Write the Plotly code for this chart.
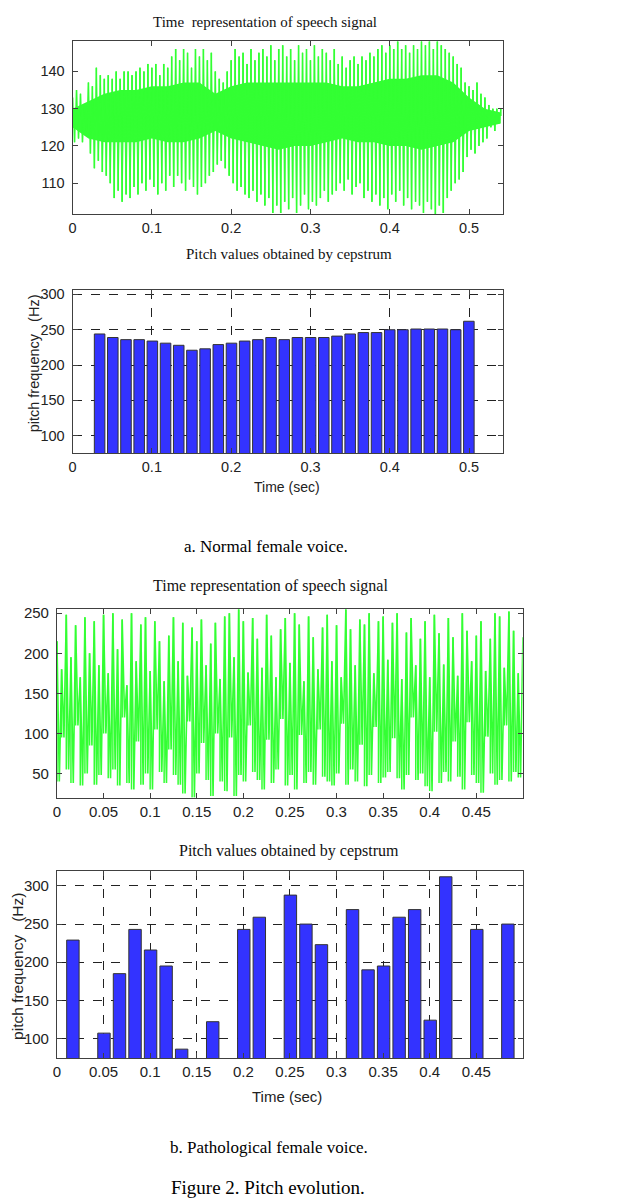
import numpy as np
import plotly.graph_objects as go

W, H = 637, 1202

# ---------------- data ----------------
# (a) normal female voice: speech signal, upper spike tips / lower spike tips
sig_a_step = 0.0025
sig_a_peaks = [133, 135, 134, 131,
               137, 136, 141, 139, 138,
               139, 138, 140, 138, 140, 140, 139, 140,
               141, 140, 142, 141, 142, 139, 142, 141,
               144, 146, 143, 146, 145, 141, 146, 144, 146, 143, 145, 140,
               138, 137, 140,
               143, 146, 144, 145, 142, 146, 143, 145, 146, 144, 147,
               143, 146, 147, 144, 146, 143, 147, 145, 146, 143, 147, 144, 146, 145, 143, 146,
               142, 144, 141, 143, 144, 142, 144, 143, 145, 144,
               146, 147, 145, 147, 146, 148, 146, 147, 145, 147,
               146, 148, 147, 148, 146, 148, 147, 146, 145, 144,
               142, 141,
               137, 136, 135, 137, 134, 133,
               131, 130, 130, 130]
sig_a_troughs = [121, 122, 121, 124,
                 118, 114, 116, 113, 112,
                 110, 106, 108, 105, 107, 106, 109, 107,
                 110, 108, 111, 109, 107, 110, 108, 112,
                 109, 112, 110, 108, 111, 109, 107, 109, 110, 112, 113, 115,
                 116, 114, 112,
                 110, 108, 109, 107, 106, 108, 105, 107, 104, 106, 102,
                 104, 102, 105, 103, 106, 102, 104, 107, 103, 105, 104, 106, 108, 105, 107, 108,
                 110, 108, 111, 107, 109, 110, 106, 108, 105, 107,
                 104, 106, 103, 107, 105, 108, 104, 106, 103, 105,
                 104, 102, 105, 103, 101, 104, 102, 106, 108, 110,
                 111, 113,
                 117, 119, 118, 120, 121, 122,
                 125, 124, 126]
sig_a_mid = 128
# dense core band of signal (a)
core_a_t = [0.00, 0.02, 0.04, 0.06, 0.08, 0.10, 0.12, 0.14, 0.16, 0.18, 0.20, 0.22, 0.24, 0.26,
            0.28, 0.30, 0.32, 0.34, 0.36, 0.38, 0.40, 0.42, 0.44, 0.46, 0.48, 0.50, 0.52, 0.54]
core_a_hi = [130, 132, 134, 135, 135, 136, 136, 137, 137, 134, 136, 137, 137, 137,
             137, 137, 137, 136, 136, 137, 138, 138, 139, 139, 137, 133, 130, 129]
core_a_lo = [125, 122, 121, 121, 121, 122, 121, 121, 122, 124, 122, 121, 120, 119,
             120, 120, 121, 122, 121, 121, 120, 120, 119, 120, 121, 124, 125, 126]

# (a) pitch values per frame (Hz)
pitch_a_t0 = 0.0341
pitch_a_step = 0.01663
pitch_a = [244, 239, 236, 236, 234, 231, 228, 221, 223, 229, 231, 234, 236, 239, 236,
           239, 239, 239, 241, 244, 246, 246, 250, 250, 251, 251, 251, 250, 262]

# (b) pathological female voice: speech signal extremes (alternating)
sig_b_step = 0.0025
sig_b_peaks = [215, 180, 248, 195, 235, 170, 245, 200, 240, 185,
               248, 175, 250, 205, 242, 160, 250, 190, 236, 245,
               178, 240, 215, 165, 222, 245, 190, 238, 172, 232,
               215, 242, 185, 212, 238, 168, 246, 250, 195, 255,
               240, 176, 244, 218, 182, 248, 222, 170, 230, 244,
               188, 250, 236, 165, 246, 220, 180, 232, 248, 190,
               235, 170, 255, 230, 185, 242, 236, 250, 175, 240,
               246, 192, 238, 250, 168, 226, 244, 185, 218, 240,
               170, 248, 225, 186, 244, 220, 172, 250, 228, 190,
               222, 240, 178, 218, 250, 246, 182, 252, 228, 175,
               220]
sig_b_troughs = [40, 95, 55, 38, 110, 35, 50, 85, 36, 48,
                 100, 44, 55, 35, 120, 38, 30, 90, 36, 50,
                 30, 105, 52, 38, 80, 48, 36, 25, 115, 20,
                 50, 88, 42, 22, 100, 40, 28, 95, 22, 48,
                 40, 110, 52, 42, 30, 92, 38, 55, 118, 35,
                 48, 30, 98, 38, 52, 36, 105, 46, 40, 35,
                 50, 112, 36, 55, 40, 86, 34, 48, 108, 38,
                 45, 52, 94, 44, 30, 48, 120, 42, 50, 34,
                 28, 102, 38, 52, 40, 90, 46, 30, 114, 48,
                 38, 26, 96, 50, 36, 42, 110, 40, 52, 45]

# (b) pitch values per frame (Hz), 0 = unvoiced frame
pitch_b_t0 = 0.0171
pitch_b_step = 0.01667
pitch_b = [229, 0, 107, 185, 243, 216, 195, 86, 0, 122, 0, 243, 259, 0, 288,
           250, 223, 0, 269, 190, 195, 259, 269, 124, 312, 0, 243, 0, 250]

# ---------------- helpers ----------------
def zigzag(peaks, troughs, step):
    n = len(peaks) + len(troughs)
    y = np.empty(n)
    y[0::2] = peaks
    y[1::2] = troughs
    return np.arange(n) * step, y

def spikes(tips, t0, step, base):
    xs, ys = [], []
    for i, v in enumerate(tips):
        t = t0 + i * step
        b = base[i] if isinstance(base, (list, tuple)) else base
        xs += [t, t, None]
        ys += [b, v, None]
    return xs, ys

def dx(l, r):
    return [l / W, r / W]

def dy(t, b):
    return [1 - b / H, 1 - t / H]

SERIF = "Liberation Serif, Times New Roman, serif"
SANS = "Liberation Sans, Arial, sans-serif"
GREEN = "#33ff33"
BLUE = "#3333ff"
FRAME = "#404040"

fig = go.Figure()

# panel 1: signal (a)
fig.add_trace(go.Scatter(
    x=list(core_a_t) + list(core_a_t[::-1]),
    y=list(core_a_hi) + list(core_a_lo[::-1]),
    fill="toself", fillcolor=GREEN, line=dict(width=0), mode="lines",
    xaxis="x", yaxis="y", hoverinfo="skip", showlegend=False))
ux, uy = spikes(sig_a_peaks, 0.0, 2 * sig_a_step, sig_a_mid)
lx, ly = spikes(sig_a_troughs, sig_a_step, 2 * sig_a_step, sig_a_mid)
fig.add_trace(go.Scatter(x=ux + lx, y=uy + ly, mode="lines", line=dict(color=GREEN, width=1.6),
                         connectgaps=False, xaxis="x", yaxis="y", hoverinfo="skip", showlegend=False))
xa, ya = zigzag(sig_a_peaks, sig_a_troughs, sig_a_step)
fig.add_trace(go.Scatter(x=xa, y=ya, mode="lines", line=dict(color=GREEN, width=0.9),
                         xaxis="x", yaxis="y", hoverinfo="skip", showlegend=False))

# panel 2: pitch (a)
ta = pitch_a_t0 + np.arange(len(pitch_a)) * pitch_a_step
fig.add_trace(go.Bar(x=ta, y=pitch_a, width=0.8 * pitch_a_step,
                     marker=dict(color=BLUE, line=dict(color="#333333", width=1)),
                     xaxis="x2", yaxis="y2", hoverinfo="skip", showlegend=False))

# panel 3: signal (b)
bx, by = spikes(sig_b_peaks[:len(sig_b_troughs)], 0.0, 2 * sig_b_step, list(sig_b_troughs))
fig.add_trace(go.Scatter(x=bx, y=by, mode="lines", line=dict(color=GREEN, width=1.5),
                         connectgaps=False, xaxis="x3", yaxis="y3", hoverinfo="skip", showlegend=False))
xb, yb = zigzag(sig_b_peaks, sig_b_troughs, sig_b_step)
fig.add_trace(go.Scatter(x=xb, y=yb, mode="lines", line=dict(color=GREEN, width=1.6),
                         xaxis="x3", yaxis="y3", hoverinfo="skip", showlegend=False))

# panel 4: pitch (b)
tb = pitch_b_t0 + np.arange(len(pitch_b)) * pitch_b_step
fig.add_trace(go.Bar(x=tb, y=pitch_b, width=0.8 * pitch_b_step,
                     marker=dict(color=BLUE, line=dict(color="#333333", width=1)),
                     xaxis="x4", yaxis="y4", hoverinfo="skip", showlegend=False))

def ax(dom, rng, dtick, size, grid=False, standoff=4, tick0=0, anchor=None):
    d = dict(domain=dom, range=rng, dtick=dtick, tick0=tick0, showline=True, linecolor=FRAME,
             linewidth=1, mirror="ticks", ticks="inside", ticklen=5, tickcolor=FRAME,
             tickwidth=1, zeroline=False, showgrid=grid, fixedrange=True,
             ticklabelstandoff=standoff,
             tickfont=dict(family=SANS, size=size, color="#222222"))
    if anchor:
        d["anchor"] = anchor
    if grid:
        d.update(gridcolor="#222222", griddash="dash", gridwidth=1)
    return d

p1x, p1y = dx(69, 502), dy(36, 210)
p2x, p2y = dx(69, 502), dy(286, 450)
p3x, p3y = dx(53.3, 522), dy(606.7, 796)
p4x, p4y = dx(53.3, 522), dy(869.3, 1057.7)

fig.update_layout(
    width=W, height=H, autosize=False,
    margin=dict(l=0, r=0, t=0, b=0),
    paper_bgcolor="white", plot_bgcolor="white",
    bargap=0,
    xaxis=ax(p1x, [0, 0.5426], 0.1, 14.5, standoff=0, anchor="y"),
    yaxis=ax(p1y, [101.7, 148.2], 10, 14.5, tick0=100, anchor="x"),
    xaxis2=ax(p2x, [0, 0.5426], 0.1, 14.5, grid=True, standoff=0, anchor="y2"),
    yaxis2=ax(p2y, [75.4, 306.5], 50, 14.5, grid=True, anchor="x2"),
    xaxis3=ax(p3x, [0, 0.4998], 0.05, 15, standoff=0, anchor="y3"),
    yaxis3=ax(p3y, [19.8, 255], 50, 15, anchor="x3"),
    xaxis4=ax(p4x, [0, 0.4998], 0.05, 15, grid=True, standoff=0, anchor="y4"),
    yaxis4=ax(p4y, [74, 320], 50, 15, grid=True, anchor="x4"),
)

def note(text, x, y, family, size, color="#111111", angle=0):
    fig.add_annotation(text=text, x=x / W, y=1 - y / H, xref="paper", yref="paper",
                       xanchor="center", yanchor="middle", showarrow=False,
                       textangle=angle, font=dict(family=family, size=size, color=color))

note("Time\u00a0\u00a0representation of speech signal", 263, 17, SERIF, 15)
note("Pitch values obtained by cepstrum", 287, 250, SERIF, 15)
note("pitch frequency\u00a0\u00a0\u00a0(Hz)", 30, 360, SANS, 14.5, color="#222222", angle=-90)
note("Time (sec)", 285, 484, SANS, 14, color="#222222")
note("a. Normal female voice.", 264, 544, SERIF, 17, color="#000000")
note("Time representation of speech signal", 268, 583, SERIF, 16)
note("Pitch values obtained by cepstrum", 287, 850, SERIF, 16)
note("pitch frequency\u00a0\u00a0\u00a0(Hz)", 14, 965, SANS, 15.5, color="#222222", angle=-90)
note("Time (sec)", 285, 1096, SANS, 15, color="#222222")
note("b. Pathological female voice.", 267, 1147, SERIF, 17, color="#000000")
note("Figure 2. Pitch evolution.", 266, 1187, SERIF, 19, color="#000000")

fig.write_html("out.html", config={"displayModeBar": False, "staticPlot": True})
